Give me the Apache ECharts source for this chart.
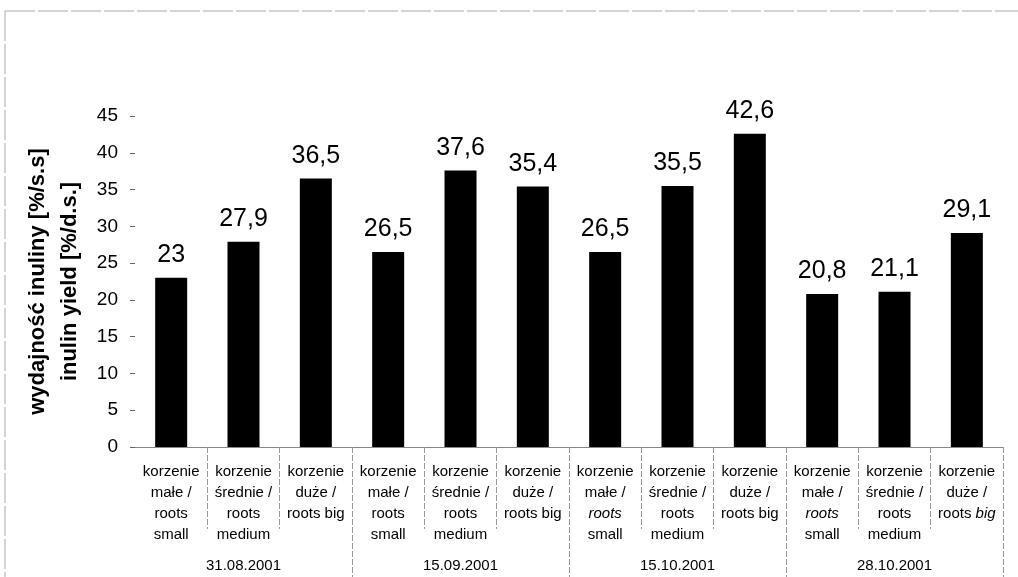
<!DOCTYPE html>
<html>
<head>
<meta charset="utf-8">
<script src="https://cdn.jsdelivr.net/npm/echarts@6/dist/echarts.min.js"></script>
<style>
  html, body { margin: 0; padding: 0; background: #fff; }
  #chart { width: 1018px; height: 577px; }
</style>
</head>
<body>
<div id="chart"></div>
<script>
// kategorie (rich text: {i|...} = kursywa)
var categories = [
  'korzenie\nmałe /\nroots\nsmall',
  'korzenie\nśrednie /\nroots\nmedium',
  'korzenie\nduże /\nroots big',
  'korzenie\nmałe /\nroots\nsmall',
  'korzenie\nśrednie /\nroots\nmedium',
  'korzenie\nduże /\nroots big',
  'korzenie\nmałe /\n{i|roots}\nsmall',
  'korzenie\nśrednie /\nroots\nmedium',
  'korzenie\nduże /\nroots big',
  'korzenie\nmałe /\n{i|roots}\nsmall',
  'korzenie\nśrednie /\nroots\nmedium',
  'korzenie\nduże /\nroots {i|big}'
];
var dates = ['31.08.2001', '15.09.2001', '15.10.2001', '28.10.2001'];
var values = [23, 27.9, 36.5, 26.5, 37.6, 35.4, 26.5, 35.5, 42.6, 20.8, 21.1, 29.1];

var FONT = 'Liberation Sans, Arial, sans-serif';
var myChart = echarts.init(document.getElementById('chart'));

var option = {
  backgroundColor: '#fff',
  animation: false,
  textStyle: { fontFamily: FONT, color: '#000' },
  grid: { left: 135, right: 15, top: 116, bottom: 130, outerBoundsMode: 'none' },
  graphic: [
    { type: 'line', shape: { x1: 5, y1: 11, x2: 1018, y2: 11 },
      style: { stroke: '#aaa', lineWidth: 1, lineDash: [30, 3] } },
    { type: 'line', shape: { x1: 5, y1: 11, x2: 5, y2: 577 },
      style: { stroke: '#aaa', lineWidth: 1, lineDash: [30, 3] } }
  ],
  xAxis: [
    {
      type: 'category',
      data: categories,
      axisLine: { show: true, lineStyle: { color: '#888', width: 1 } },
      axisTick: {
        show: true,
        length: 82,
        interval: function (i) { return i % 3 !== 0; },
        lineStyle: { color: '#999', width: 1, type: [6, 2] }
      },
      axisLabel: {
        interval: 0,
        margin: 14,
        fontSize: 15,
        lineHeight: 21,
        color: '#000',
        fontFamily: FONT,
        verticalAlign: 'top',
        rich: {
          i: { fontStyle: 'italic', fontSize: 15, lineHeight: 21, fontFamily: FONT, color: '#000' }
        }
      }
    },
    {
      type: 'category',
      position: 'bottom',
      data: dates,
      axisLine: { show: false },
      axisTick: {
        show: true,
        length: 130,
        interval: function (i) { return i !== 0; },
        lineStyle: { color: '#999', width: 1, type: [6, 2] }
      },
      axisLabel: {
        interval: 0,
        margin: 111,
        fontSize: 15,
        color: '#000',
        fontFamily: FONT
      }
    }
  ],
  yAxis: {
    type: 'value',
    min: 0,
    max: 45,
    interval: 5,
    name: 'wydajność inuliny [%/s.s]\ninulin yield [%/d.s.]',
    nameLocation: 'middle',
    nameRotate: 90,
    nameGap: 46,
    nameTextStyle: {
      fontSize: 22,
      fontWeight: 'bold',
      lineHeight: 32,
      color: '#000',
      fontFamily: FONT
    },
    axisLine: { show: false },
    axisTick: { show: true, length: 5, lineStyle: { color: '#666' } },
    splitLine: { show: false },
    axisLabel: { margin: 17, fontSize: 19, color: '#000', fontFamily: FONT }
  },
  series: [
    {
      type: 'bar',
      data: values,
      barWidth: 32,
      itemStyle: { color: '#000' },
      label: {
        show: true,
        position: 'top',
        distance: 10,
        fontSize: 25,
        color: '#000',
        fontFamily: FONT,
        formatter: function (p) { return String(p.value).replace('.', ','); }
      }
    }
  ]
};

myChart.setOption(option);
window.addEventListener('resize', function () {
  myChart.resize();
});
</script>
</body>
</html>
